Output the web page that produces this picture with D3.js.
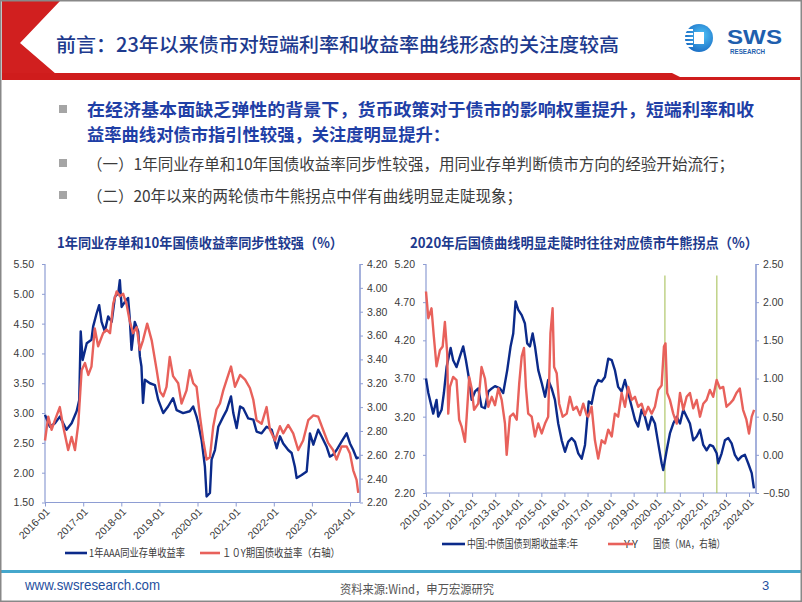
<!DOCTYPE html>
<html><head><meta charset="utf-8">
<script src="https://cdn.jsdelivr.net/npm/d3@7"></script>
<style>
html,body{margin:0;padding:0;background:#fff;}
svg{display:block;font-family:"Liberation Sans",Arial,"Noto Sans CJK SC",sans-serif;}
</style></head><body>
<svg id="c" width="802" height="602"></svg>
<script>
// ---------------- DATA ----------------
const slideTitle = "前言：23年以来债市对短端利率和收益率曲线形态的关注度较高";
const bulletLines = [
  "在经济基本面缺乏弹性的背景下，货币政策对于债市的影响权重提升，短端利率和收",
  "益率曲线对债市指引性较强，关注度明显提升：",
  "（一）1年同业存单和10年国债收益率同步性较强，用同业存单判断债市方向的经验开始流行；",
  "（二）20年以来的两轮债市牛熊拐点中伴有曲线明显走陡现象；"
];
const leftTitle = "1年同业存单和10年国债收益率同步性较强（%）";
const rightTitle = "2020年后国债曲线明显走陡时往往对应债市牛熊拐点（%）";
const leftLegend = ["1年AAA同业存单收益率", "１０Y期国债收益率（右轴）"];
const rightLegend = ["中国:中债国债到期收益率:年", "Y-Y", "国债（MA，右轴）"];
const footerUrl = "www.swsresearch.com";
const footerSource = "资料来源:Wind，申万宏源研究";
const pageNo = "3";

const leftYTicks = [1.5, 2.0, 2.5, 3.0, 3.5, 4.0, 4.5, 5.0, 5.5];
const leftY2Ticks = [2.2, 2.4, 2.6, 2.8, 3.0, 3.2, 3.4, 3.6, 3.8, 4.0, 4.2];
const leftXTicks = ["2016-01","2017-01","2018-01","2019-01","2020-01","2021-01","2022-01","2023-01","2024-01"];
const rightYTicks = [2.2, 2.7, 3.2, 3.7, 4.2, 4.7, 5.2];
const rightY2Ticks = [-0.5, 0.0, 0.5, 1.0, 1.5, 2.0, 2.5];
const rightXTicks = ["2010-01","2011-01","2012-01","2013-01","2014-01","2015-01","2016-01","2017-01","2018-01","2019-01","2020-01","2021-01","2022-01","2023-01","2024-01"];

// 1Y AAA NCD yield (left axis, left chart)
const ncd1y = [
["2016-01-01",2.97],["2016-02-17",2.77],["2016-04-05",2.83],["2016-05-22",2.94],["2016-07-25",2.72],
["2016-09-12",2.83],["2016-10-30",3.03],["2016-11-24",3.22],["2016-12-08",4.37],["2016-12-27",3.89],
["2017-02-04",4.17],["2017-03-21",4.23],["2017-04-06",4.45],["2017-05-09",4.67],["2017-06-03",4.81],
["2017-06-26",4.53],["2017-07-27",4.37],["2017-08-28",4.62],["2017-10-01",4.53],["2017-11-01",4.95],
["2017-12-03",5.01],["2017-12-18",5.23],["2018-01-04",4.78],["2018-02-06",4.87],["2018-03-07",4.93],
["2018-03-23",4.59],["2018-04-09",4.06],["2018-05-10",4.53],["2018-06-12",4.37],["2018-06-28",3.95],
["2018-07-13",3.78],["2018-07-28",3.17],["2018-08-15",3.56],["2018-10-02",3.50],["2018-11-19",3.47],
["2018-12-21",3.22],["2019-02-07",3.00],["2019-03-25",3.11],["2019-05-12",3.25],["2019-06-15",3.05],
["2019-08-16",3.00],["2019-10-19",3.03],["2019-11-21",3.11],["2019-12-23",2.94],["2020-01-08",2.83],
["2020-02-09",2.55],["2020-03-12",2.10],["2020-03-28",1.60],["2020-04-29",1.66],["2020-05-15",2.22],
["2020-06-16",2.38],["2020-07-18",2.77],["2020-09-04",2.94],["2020-10-07",3.05],["2020-11-17",3.28],
["2020-12-09",3.00],["2021-01-10",2.75],["2021-02-12",3.11],["2021-03-14",3.08],["2021-05-01",2.91],
["2021-06-19",2.89],["2021-07-20",2.69],["2021-09-06",2.66],["2021-10-24",2.77],["2021-12-12",2.72],
["2022-01-29",2.41],["2022-03-01",2.61],["2022-04-01",2.49],["2022-05-19",2.38],["2022-06-21",2.33],
["2022-07-22",2.10],["2022-08-08",1.91],["2022-09-25",1.96],["2022-11-12",2.02],["2022-12-13",2.66],
["2023-01-15",2.47],["2023-03-02",2.72],["2023-04-03",2.61],["2023-05-21",2.44],["2023-06-22",2.27],
["2023-07-23",2.30],["2023-08-25",2.38],["2023-10-12",2.52],["2023-11-30",2.66],["2024-01-01",2.49],
["2024-02-01",2.38],["2024-03-04",2.24],["2024-03-25",2.26]
];
// 10Y government bond yield (right axis, left chart)
const cgb10yL = [
["2016-01-01",2.72],["2016-02-01",2.92],["2016-03-04",2.81],["2016-04-05",2.89],["2016-05-22",3.00],
["2016-06-23",2.84],["2016-08-10",2.64],["2016-09-12",2.75],["2016-10-14",2.64],["2016-11-15",2.86],
["2016-12-17",3.31],["2017-01-18",3.37],["2017-02-19",3.27],["2017-03-21",3.34],["2017-04-22",3.66],
["2017-05-24",3.51],["2017-07-11",3.62],["2017-08-13",3.65],["2017-09-15",3.62],["2017-10-16",3.87],
["2017-11-18",3.97],["2017-12-18",3.93],["2018-01-19",3.95],["2018-02-21",3.86],["2018-03-23",3.72],
["2018-04-24",3.62],["2018-05-28",3.67],["2018-06-28",3.48],["2018-07-28",3.56],["2018-09-06",3.70],
["2018-10-19",3.56],["2018-12-06",3.31],["2019-01-07",3.13],["2019-02-07",3.09],["2019-03-10",3.17],
["2019-04-10",3.42],["2019-05-12",3.26],["2019-06-30",3.20],["2019-08-01",3.03],["2019-09-18",3.14],
["2019-10-19",3.31],["2019-11-21",3.20],["2019-12-23",3.17],["2020-01-25",2.92],["2020-02-25",2.72],
["2020-03-28",2.56],["2020-04-29",2.58],["2020-05-31",2.84],["2020-07-01",2.98],["2020-08-03",3.03],
["2020-09-04",3.14],["2020-10-07",3.23],["2020-11-17",3.34],["2020-12-25",3.17],["2021-02-12",3.27],
["2021-04-01",3.23],["2021-05-17",3.16],["2021-06-19",3.06],["2021-07-20",2.89],["2021-09-06",2.86],
["2021-10-24",3.00],["2021-11-25",2.81],["2022-01-13",2.72],["2022-03-01",2.84],["2022-04-01",2.78],
["2022-05-19",2.85],["2022-07-06",2.78],["2022-08-23",2.64],["2022-10-09",2.72],["2022-11-27",2.89],
["2023-01-15",2.93],["2023-03-02",2.92],["2023-04-18",2.81],["2023-06-05",2.70],["2023-07-23",2.64],
["2023-08-25",2.56],["2023-10-12",2.67],["2023-11-30",2.67],["2024-01-01",2.61],["2024-02-01",2.47],
["2024-03-04",2.39],["2024-03-20",2.28]
];
// 10Y government bond yield (left axis, right chart)
const cgb10yR = [
["2010-01-01",3.70],["2010-02-07",3.51],["2010-04-25",3.24],["2010-06-17",3.42],["2010-07-13",3.20],
["2010-09-05",3.29],["2010-10-11",3.51],["2010-11-23",3.85],["2011-01-26",4.10],["2011-03-07",3.94],
["2011-04-29",3.85],["2011-06-22",3.99],["2011-08-13",4.12],["2011-09-25",3.94],["2011-11-16",3.68],
["2011-12-25",3.42],["2012-02-16",3.53],["2012-04-07",3.57],["2012-05-29",3.33],["2012-07-22",3.31],
["2012-09-13",3.53],["2012-11-07",3.57],["2012-12-28",3.60],["2013-03-16",3.57],["2013-05-07",3.51],
["2013-07-10",3.81],["2013-09-01",4.12],["2013-10-13",4.29],["2013-11-19",4.71],["2014-01-01",4.60],
["2014-02-24",4.53],["2014-04-16",4.42],["2014-05-22",4.16],["2014-07-04",4.12],["2014-08-16",4.29],
["2014-09-22",4.12],["2014-11-13",3.81],["2015-01-07",3.64],["2015-02-28",3.46],["2015-04-19",3.68],
["2015-06-13",3.57],["2015-08-04",3.42],["2015-09-25",3.11],["2015-11-19",2.89],["2016-01-10",2.74],
["2016-03-01",2.87],["2016-04-25",2.92],["2016-06-16",2.87],["2016-08-07",2.72],["2016-10-01",2.65],
["2016-11-22",2.83],["2016-12-20",3.10],["2017-01-20",3.40],["2017-03-07",3.37],["2017-04-28",3.59],
["2017-06-19",3.68],["2017-08-13",3.66],["2017-10-04",3.72],["2017-11-25",3.96],["2018-01-19",3.94],
["2018-03-10",3.81],["2018-05-01",3.59],["2018-06-25",3.53],["2018-08-16",3.68],["2018-10-07",3.51],
["2018-12-01",3.33],["2019-01-22",3.16],["2019-03-13",3.07],["2019-05-07",3.29],["2019-06-28",3.20],
["2019-08-19",3.03],["2019-10-13",3.20],["2019-12-04",3.11],["2020-01-25",2.85],["2020-03-19",2.59],
["2020-04-13",2.50],["2020-06-07",2.76],["2020-07-28",2.98],["2020-09-19",3.11],["2020-11-13",3.20],
["2021-01-04",3.11],["2021-02-25",3.29],["2021-04-19",3.20],["2021-06-10",3.11],["2021-08-01",2.89],
["2021-09-25",2.94],["2021-11-16",3.03],["2022-01-07",2.83],["2022-03-01",2.76],["2022-04-22",2.83],
["2022-06-13",2.81],["2022-08-07",2.72],["2022-09-01",2.59],["2022-10-25",2.72],["2022-12-16",2.89],
["2023-02-07",2.92],["2023-04-01",2.85],["2023-05-22",2.70],["2023-07-13",2.63],["2023-09-07",2.68],
["2023-10-28",2.70],["2023-12-19",2.59],["2024-02-13",2.46],["2024-03-19",2.26]
];
// 10Y-1Y government bond spread, moving average (right axis, right chart)
const spreadMA = [
["2010-01-01",2.14],["2010-02-07",1.79],["2010-03-29",1.92],["2010-05-05",1.55],["2010-06-17",1.16],
["2010-08-09",1.37],["2010-09-22",1.42],["2010-10-27",1.74],["2010-12-03",1.33],["2010-12-19",0.54],
["2011-01-15",0.89],["2011-03-07",1.02],["2011-04-29",0.98],["2011-06-10",0.46],["2011-07-19",0.37],
["2011-09-10",0.17],["2011-10-07",0.50],["2011-11-16",1.02],["2011-12-25",0.87],["2012-02-01",0.59],
["2012-04-07",0.67],["2012-05-29",1.15],["2012-07-22",1.00],["2012-09-13",0.63],["2012-11-07",0.76],
["2012-12-28",0.65],["2013-02-19",0.87],["2013-04-13",0.72],["2013-06-04",0.41],["2013-07-01",0.00],
["2013-08-22",0.50],["2013-10-13",0.54],["2013-12-07",0.46],["2014-01-16",0.94],["2014-02-24",1.29],
["2014-04-01",1.40],["2014-05-01",0.89],["2014-06-07",0.54],["2014-08-01",0.50],["2014-09-22",0.24],
["2014-11-13",0.41],["2015-01-07",0.28],["2015-02-28",0.41],["2015-04-19",0.50],["2015-05-25",1.59],
["2015-06-28",1.92],["2015-07-22",1.15],["2015-09-01",1.07],["2015-10-10",0.67],["2015-12-04",0.50],
["2016-02-07",0.54],["2016-03-28",0.76],["2016-05-19",0.59],["2016-07-13",0.63],["2016-09-04",0.52],
["2016-10-25",0.67],["2016-12-19",0.52],["2017-01-13",0.50],["2017-03-07",0.63],["2017-04-28",0.19],
["2017-06-19",-0.05],["2017-08-13",0.19],["2017-10-04",0.15],["2017-11-25",0.33],["2018-01-19",0.24],
["2018-03-10",0.54],["2018-05-01",0.50],["2018-06-25",0.81],["2018-08-16",0.63],["2018-10-07",0.89],
["2018-12-01",0.72],["2019-01-22",0.76],["2019-03-13",0.63],["2019-05-07",0.67],["2019-06-28",0.52],
["2019-08-19",0.63],["2019-10-13",0.54],["2019-12-04",0.63],["2020-01-25",0.85],["2020-03-19",0.91],
["2020-04-25",1.42],["2020-05-19",1.46],["2020-06-15",0.81],["2020-07-28",0.72],["2020-09-19",0.54],
["2020-11-13",0.41],["2021-01-04",0.81],["2021-02-25",0.59],["2021-04-19",0.76],["2021-06-10",0.81],
["2021-08-01",0.61],["2021-09-25",0.72],["2021-11-16",0.50],["2022-01-07",0.67],["2022-03-01",0.72],
["2022-04-22",0.85],["2022-06-13",0.76],["2022-08-07",0.98],["2022-09-28",0.87],["2022-11-19",0.89],
["2023-01-10",0.63],["2023-03-03",0.67],["2023-04-25",0.72],["2023-06-16",0.81],["2023-08-08",0.87],
["2023-09-29",0.59],["2023-11-21",0.46],["2024-01-01",0.28],["2024-02-13",0.50],["2024-03-22",0.59]
];
// turning-point markers (right chart)
const turningDates = ["2020-05-10", "2022-08-10"];
const turningTop = 2.35;

// ---------------- DRAW ----------------
const parse = d3.timeParse("%Y-%m-%d");
const parseM = d3.timeParse("%Y-%m");
const svg = d3.select("#c");
const BLUE_T = "#1d3a8e";
const NAVY = "#0b2a8a";
const RED = "#e8615b";
const AXIS = "#8e9dd3";
const LBL = "#3a3a3a";
const CJK = "'Noto Sans CJK SC','Noto Sans',sans-serif";

svg.append("rect").attr("x",0).attr("y",0).attr("width",802).attr("height",602).attr("fill","#fff");

// header decoration
svg.append("polygon").attr("points","2,1 60,1 20,43 56,74 2,74").attr("fill","#d11f1f");
svg.append("polygon").attr("points","2,73 672,73 680,77 800,77 800,80 2,80").attr("fill","#cf1c1c");

svg.append("text").attr("x",56).attr("y",52).attr("font-family",CJK).attr("font-size",19.5)
  .attr("font-weight",500).attr("fill",BLUE_T).attr("textLength",563).attr("lengthAdjust","spacingAndGlyphs")
  .text(slideTitle);

// logo
const logo = svg.append("g");
const grad = svg.append("defs").append("radialGradient").attr("id","lg").attr("cx","0.6").attr("cy","0.4").attr("r","0.7");
grad.append("stop").attr("offset","0").attr("stop-color","#4fc3f7");
grad.append("stop").attr("offset","1").attr("stop-color","#1565c0");
logo.append("circle").attr("cx",699).attr("cy",38).attr("r",14).attr("fill","url(#lg)");
[29,33,37,41,45].forEach((yy,i)=>{
  logo.append("rect").attr("x",684).attr("y",yy).attr("width",9).attr("height",2).attr("fill","#fff");
});
logo.append("rect").attr("x",694).attr("y",32).attr("width",10).attr("height",12).attr("fill","#fff");
logo.append("text").attr("x",727).attr("y",44).attr("font-family","'Liberation Sans',Arial,sans-serif")
  .attr("font-weight","bold").attr("font-size",21).attr("fill","#1f5fae").attr("textLength",55).attr("lengthAdjust","spacingAndGlyphs").text("SWS");
logo.append("text").attr("x",730).attr("y",54).attr("font-family","'Liberation Sans',Arial,sans-serif")
  .attr("font-weight","bold").attr("font-size",7).attr("fill","#1f5fae").attr("textLength",35).attr("lengthAdjust","spacingAndGlyphs").text("RESEARCH");

// bullets
const bulletSpec = [
  {y:116, len:667, size:17.5, w:"bold", fill:"#1f3fa6", sq:true},
  {y:141, len:363, size:17.5, w:"bold", fill:"#1f3fa6", sq:false},
  {y:170, len:647, size:15.5, w:"normal", fill:"#3c3c3c", sq:true},
  {y:202, len:435, size:15.5, w:"normal", fill:"#3c3c3c", sq:true}
];
bulletLines.forEach((t,i)=>{
  const s = bulletSpec[i];
  if (s.sq) svg.append("rect").attr("x",59).attr("y",s.y-11).attr("width",8).attr("height",8).attr("fill","#a5a5a5");
  svg.append("text").attr("x",87).attr("y",s.y).attr("font-family",CJK).attr("font-size",s.size)
    .attr("font-weight",s.w).attr("fill",s.fill).attr("textLength",s.len).attr("lengthAdjust","spacingAndGlyphs").text(t);
});

// chart titles
svg.append("text").attr("x",57).attr("y",248).attr("font-family",CJK).attr("font-size",14).attr("font-weight","bold")
  .attr("fill",BLUE_T).attr("textLength",286).attr("lengthAdjust","spacingAndGlyphs").text(leftTitle);
svg.append("text").attr("x",410).attr("y",248).attr("font-family",CJK).attr("font-size",14).attr("font-weight","bold")
  .attr("fill",BLUE_T).attr("textLength",348).attr("lengthAdjust","spacingAndGlyphs").text(rightTitle);

function styleAxis(g){
  g.select(".domain").remove();
  g.selectAll(".tick line").attr("stroke",AXIS);
  g.selectAll(".tick text").attr("fill",LBL).attr("font-size",10.5).attr("font-family","'Liberation Sans',Arial,sans-serif");
}

function chart(o){
  const x = d3.scaleTime().domain([parseM(o.xTicks[0]), parseM(o.xTicks[o.xTicks.length-1])]).range([o.x0, o.xLastTick]);
  const yL = d3.scaleLinear().domain([o.yTicks[0], o.yTicks[o.yTicks.length-1]]).range([o.y1, o.y0]);
  const yR = d3.scaleLinear().domain([o.y2Ticks[0], o.y2Ticks[o.y2Ticks.length-1]]).range([o.y1, o.y0]);
  const g = svg.append("g");
  // axis lines
  g.append("line").attr("x1",o.x0).attr("x2",o.x0).attr("y1",o.y0).attr("y2",o.y1).attr("stroke",AXIS).attr("stroke-width",1.2);
  g.append("line").attr("x1",o.x1).attr("x2",o.x1).attr("y1",o.y0).attr("y2",o.y1).attr("stroke",AXIS).attr("stroke-width",1.6);
  g.append("line").attr("x1",o.x0).attr("x2",o.x1).attr("y1",o.y1).attr("y2",o.y1).attr("stroke",AXIS).attr("stroke-width",1.2);
  const al = g.append("g").attr("transform",`translate(${o.x0},0)`)
    .call(d3.axisLeft(yL).tickValues(o.yTicks).tickFormat(d3.format(".2f")).tickSize(3).tickPadding(8));
  styleAxis(al);
  const ar = g.append("g").attr("transform",`translate(${o.x1},0)`)
    .call(d3.axisRight(yR).tickValues(o.y2Ticks).tickFormat(d3.format(".2f")).tickSize(3).tickPadding(4));
  styleAxis(ar);
  const ab = g.append("g").attr("transform",`translate(0,${o.y1})`)
    .call(d3.axisBottom(x).tickValues(o.xTicks.map(parseM)).tickFormat(d3.timeFormat("%Y-%m")).tickSize(4));
  styleAxis(ab);
  ab.selectAll(".tick text").attr("text-anchor","end").attr("dy",null).attr("y",0)
    .attr("transform","translate(3,8) rotate(-45)").attr("dominant-baseline","middle");
  // markers
  if (o.marks) {
    o.marks.forEach(d=>{
      g.append("line").attr("x1",x(parse(d))).attr("x2",x(parse(d))).attr("y1",yR(o.markTop)).attr("y2",o.y1)
        .attr("stroke","#a9c25c").attr("stroke-width",1.1);
    });
  }
  const lineL = d3.line().x(d=>x(parse(d[0]))).y(d=>yL(d[1]));
  const lineR = d3.line().x(d=>x(parse(d[0]))).y(d=>yR(d[1]));
  g.append("path").datum(o.s1).attr("d",lineL).attr("fill","none").attr("stroke",NAVY).attr("stroke-width",2.4).attr("stroke-linejoin","round");
  g.append("path").datum(o.s2).attr("d",lineR).attr("fill","none").attr("stroke",RED).attr("stroke-width",2.4).attr("stroke-linejoin","round");
}

chart({x0:45, x1:360, xLastTick:350, y0:264, y1:502.5, xTicks:leftXTicks, yTicks:leftYTicks, y2Ticks:leftY2Ticks, s1:ncd1y, s2:cgb10yL});
chart({x0:426, x1:756, xLastTick:749, y0:264, y1:493, xTicks:rightXTicks, yTicks:rightYTicks, y2Ticks:rightY2Ticks, s1:cgb10yR, s2:spreadMA, marks:turningDates, markTop:turningTop});

// legends
function legLine(x1,x2,y,c){ svg.append("line").attr("x1",x1).attr("x2",x2).attr("y1",y).attr("y2",y).attr("stroke",c).attr("stroke-width",2.6); }
function legText(x,y,t,len){ const e=svg.append("text").attr("x",x).attr("y",y).attr("font-family",CJK).attr("font-size",11).attr("fill",LBL).text(t); if(len) e.attr("textLength",len).attr("lengthAdjust","spacingAndGlyphs"); }
legLine(65,87,553,NAVY); legText(89,557,leftLegend[0],96);
legLine(200,220,553,RED); legText(222,557,leftLegend[1],118);
legLine(442,465,544,NAVY); legText(467,548,rightLegend[0],111);
legText(624,548,rightLegend[1],14); legLine(608,633,544,RED); legText(653,548,rightLegend[2],72);

// footer
svg.append("line").attr("x1",1).attr("x2",801).attr("y1",571.5).attr("y2",571.5).attr("stroke","#45a7cc").attr("stroke-width",3);
svg.append("text").attr("x",25).attr("y",590).attr("font-family","'Liberation Sans',Arial,sans-serif").attr("font-size",14.5)
  .attr("fill","#1f4f9e").attr("textLength",135).attr("lengthAdjust","spacingAndGlyphs").text(footerUrl);
svg.append("text").attr("x",340).attr("y",594).attr("font-family",CJK).attr("font-size",12.5)
  .attr("fill","#555").attr("textLength",154).attr("lengthAdjust","spacingAndGlyphs").text(footerSource);
svg.append("text").attr("x",762).attr("y",590).attr("font-family","'Liberation Sans',Arial,sans-serif").attr("font-size",13)
  .attr("fill","#1f4f9e").text(pageNo);

// frame
svg.append("rect").attr("x",0.75).attr("y",0.75).attr("width",800.5).attr("height",600.5).attr("fill","none").attr("stroke","#888").attr("stroke-width",1.5);
</script>
</body></html>
